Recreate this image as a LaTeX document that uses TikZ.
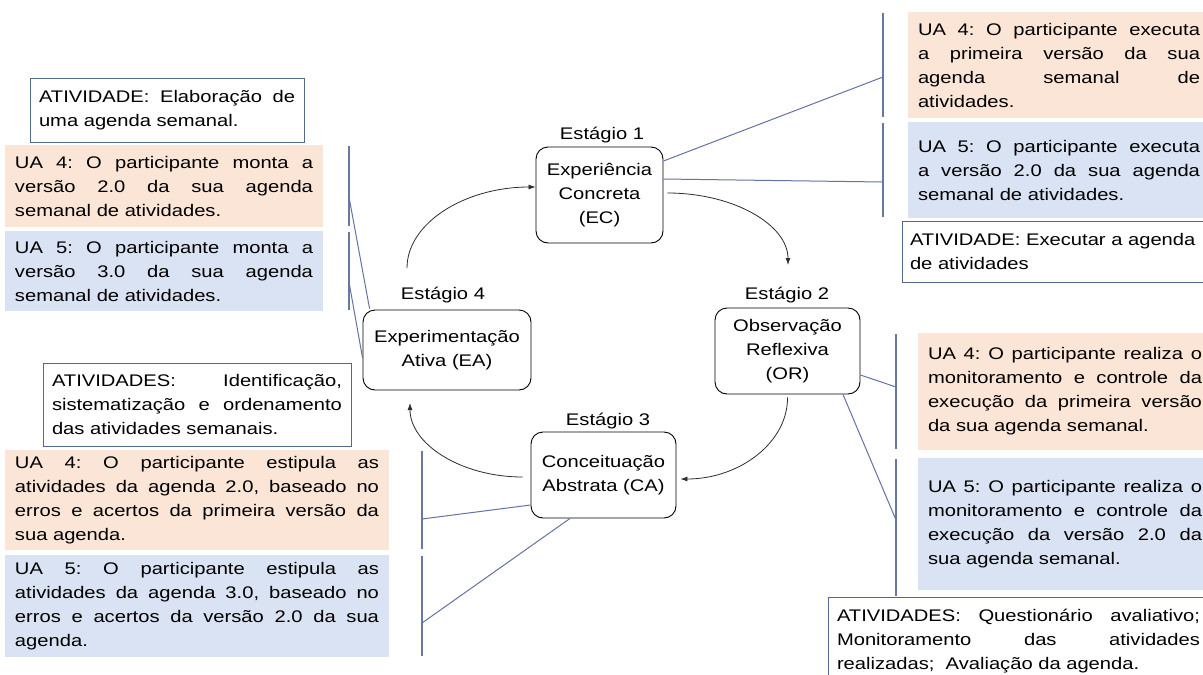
\documentclass[tikz,border=0pt]{standalone}
\usepackage{fontspec}
\setmainfont{Liberation Sans}[FakeStretch=1.2]
\usetikzlibrary{arrows.meta,calc}

\definecolor{uaorange}{HTML}{FBE5D6}
\definecolor{uablue}{HTML}{DAE3F3}
\definecolor{framecol}{RGB}{85,102,145}
\definecolor{bracecol}{RGB}{105,120,160}
\definecolor{linkcol}{RGB}{100,115,160}
\definecolor{flowcol}{RGB}{45,45,45}

% one fully justified line of a panel (spaces stretch to fill the width)
\newlength\jlw
\newcommand\Jl[1]{\makebox[\jlw][s]{\spaceskip=0pt\relax\xspaceskip=0pt\relax#1}\\}

\begin{document}
\frenchspacing
\begin{tikzpicture}[x=1pt,y=-1pt,
  txt/.style={font=\fontsize{16.8}{24}\selectfont},
  pw/.style={text width=#1pt, execute at begin node={\setlength{\jlw}{#1pt}}},
  panel/.style={txt, anchor=north west, inner ysep=0pt, align=left, outer sep=0pt},
  uafour/.style={panel, fill=uaorange},
  uafive/.style={panel, fill=uablue},
  activity/.style={panel, draw=framecol, line width=1pt, fill=white},
  stagebox/.style={txt, draw=black, line width=0.9pt, rounded corners=12pt, align=center, inner sep=0pt},
  stagelabel/.style={txt, inner sep=0pt},
  bracket/.style={draw=bracecol, line width=1.4pt, shorten <=1pt, shorten >=1pt},
  linkline/.style={draw=linkcol, line width=1pt},
  flow/.style={draw=flowcol, line width=0.8pt, -{Latex[length=7pt,width=5pt]}},
]
\useasboundingbox (0,0) rectangle (1203,675);
\clip (0,0) rectangle (1203,675);
\fill[white] (0,0) rectangle (1203,675);

% ---- the four stages of the cycle ----
\node[stagebox, minimum width=127, minimum height=96] (EC) at (599.5,195) {Experiência\\Concreta\\(EC)};
\node[stagebox, minimum width=145, minimum height=86] (OR) at (787.5,351) {Observação\\Reflexiva\\(OR)};
\node[stagebox, minimum width=145, minimum height=86] (CA) at (603.5,475) {Conceituação\\Abstrata (CA)};
\node[stagebox, minimum width=168, minimum height=80] (EA) at (447,350) {Experimentação\\Ativa (EA)};

\node[stagelabel] (s1) at (602,135) {Estágio 1};
\node[stagelabel] (s2) at (787,295) {Estágio 2};
\node[stagelabel] (s3) at (608,421) {Estágio 3};
\node[stagelabel] (s4) at (443,295) {Estágio 4};

% ---- cycle arrows ----
\coordinate (a1s) at (407,268);
\coordinate (a2e) at (788,265);
\coordinate (a4e) at (410,403);
\draw[flow] (a1s) .. controls (407,223) and (465,187) .. (EC.west |- 0,187);
\draw[flow] ($(EC.east |- 0,193)+(4,0)$) .. controls (734,193) and (788,225) .. (a2e);
\draw[flow] ($(OR.south)+(0,3)$) .. controls (788,442) and (740,479) .. ($(CA.east |- 0,479)+(4,0)$);
\draw[flow] ($(CA.west |- 0,477)+(-8,0)$) .. controls (461,477) and (410,444) .. (a4e);

% ---- left, upper group (Experimentação Ativa) ----
\node[activity, pw=256, inner xsep=9, minimum height=64] (actL) at (30,78)
  {\Jl{ATIVIDADE: Elaboração de}uma agenda semanal.};
\node[uafour, pw=298, inner xsep=10, minimum height=82] (l4) at (5,145)
  {\Jl{UA 4: O participante monta a}\Jl{versão 2.0 da sua agenda}semanal de atividades.};
\node[uafive, pw=298, inner xsep=10, minimum height=80] (l5) at (5,231)
  {\Jl{UA 5: O participante monta a}\Jl{versão 3.0 da sua agenda}semanal de atividades.};

% ---- left, lower group (Conceituação Abstrata) ----
\node[activity, pw=290, inner xsep=9, minimum height=83] (actB) at (43,363)
  {\Jl{ATIVIDADES: Identificação,}\Jl{sistematização e ordenamento}das atividades semanais.};
\node[uafour, pw=364, inner xsep=10, minimum height=100] (b4) at (5,450)
  {\Jl{UA 4: O participante estipula as}\Jl{atividades da agenda 2.0, baseado no}\Jl{erros e acertos da primeira versão da}sua agenda.};
\node[uafive, pw=364, inner xsep=10, minimum height=102] (b5) at (5,555)
  {\Jl{UA 5: O participante estipula as}\Jl{atividades da agenda 3.0, baseado no}\Jl{erros e acertos da versão 2.0 da sua}agenda.};

% ---- right, upper group (Experiência Concreta) ----
\node[uafour, pw=282, inner xsep=10, minimum height=106] (t4) at (908,12)
  {\Jl{UA 4: O participante executa}\Jl{a primeira versão da sua}\Jl{agenda semanal de}atividades.};
\node[uafive, pw=282, inner xsep=10, minimum height=96] (t5) at (908,122)
  {\Jl{UA 5: O participante executa}\Jl{a versão 2.0 da sua agenda}semanal de atividades.};
\node[activity, pw=292, inner xsep=8, minimum height=61] (actT) at (902,221)
  {ATIVIDADE: Executar a agenda\\de atividades};

% ---- right, lower group (Observação Reflexiva) ----
\node[uafour, pw=274, inner xsep=10, minimum height=117] (r4) at (918,333)
  {\Jl{UA 4: O participante realiza o}\Jl{monitoramento e controle da}\Jl{execução da primeira versão}da sua agenda semanal.};
\node[uafive, pw=274, inner xsep=10, minimum height=132] (r5) at (918,458)
  {\Jl{UA 5: O participante realiza o}\Jl{monitoramento e controle da}\Jl{execução da versão 2.0 da}sua agenda semanal.};
\node[activity, pw=363, inner xsep=9, minimum height=88] (actR) at (828,597)
  {\Jl{ATIVIDADES: Questionário avaliativo;}\Jl{Monitoramento das atividades}realizadas;\ \ Avaliação da agenda.};

% ---- brackets beside the panels ----
\coordinate (brL) at (349,0);
\coordinate (brB) at (422,0);
\coordinate (brT) at (883,0);
\coordinate (brR) at (896,0);
\draw[bracket] (l4.north -| brL) -- (l4.south -| brL);
\draw[bracket] (l5.north -| brL) -- (l5.south -| brL);
\draw[bracket] (b4.north -| brB) -- (b4.south -| brB);
\draw[bracket] (b5.north -| brB) -- (b5.south -| brB);
\draw[bracket] (t4.north -| brT) -- (t4.south -| brT);
\draw[bracket] (t5.north -| brT) -- (t5.south -| brT);
\draw[bracket] (r4.north -| brR) -- (r4.south -| brR);
\draw[bracket] (r5.north -| brR) -- (actR.north -| brR);

% ---- links from the stages to the brackets ----
\coordinate (hl4) at (349,197);
\coordinate (hl5) at (349,282);
\coordinate (hb4) at (422,519);
\coordinate (hb5) at (422,623);
\coordinate (ht4) at (883,77);
\coordinate (ht5) at (883,182);
\coordinate (hr4) at (896,387);
\coordinate (hr5) at (896,520);
\draw[linkline] ($(EA.north west)+(7,-1)$) -- (hl4);
\draw[linkline] (EA.west |- 0,358) -- (hl5);
\draw[linkline] (CA.west |- 0,505) -- (hb4);
\draw[linkline] (CA.south -| 570,0) -- (hb5);
\draw[linkline] (EC.east |- 0,161) -- (ht4);
\draw[linkline] (EC.east |- 0,179) -- (ht5);
\draw[linkline] (OR.east |- 0,375) -- (hr4);
\draw[linkline] (OR.south -| 843,0) -- (hr5);
\end{tikzpicture}
\end{document}
